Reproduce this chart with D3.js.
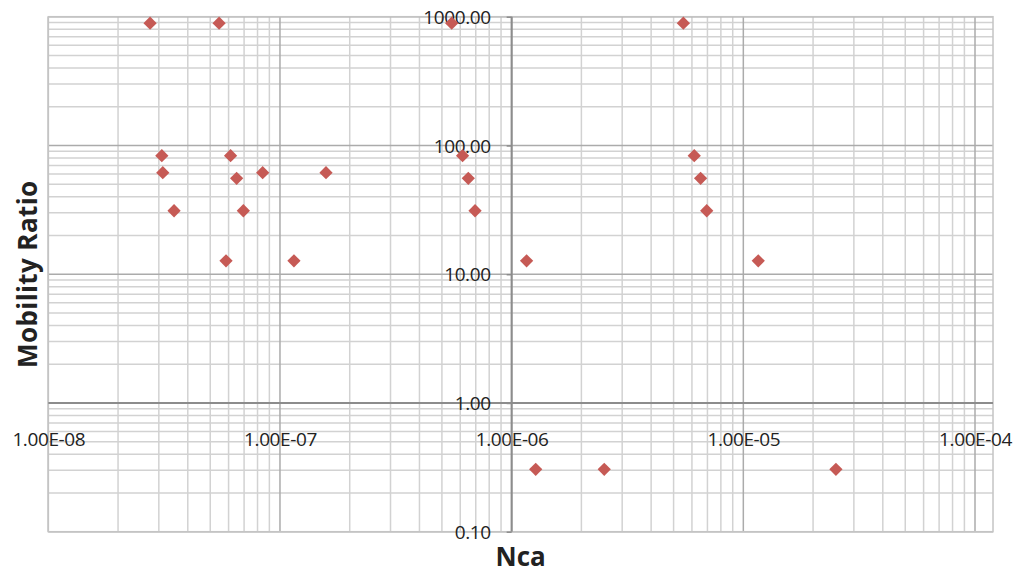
<!DOCTYPE html>
<html>
<head>
<meta charset="utf-8">
<script src="https://cdn.jsdelivr.net/npm/d3@7"></script>
<style>
  body { margin: 0; background: #fff; }
  text { font-family: "Open Sans", "Liberation Sans", sans-serif; fill: #222; }
</style>
</head>
<body>
<div id="chart"></div>
<script>
// capillary number (Nca) vs mobility ratio
const nca = [
  2.75e-8, 5.46e-8, 5.51e-7, 5.51e-6,
  3.09e-8, 6.12e-8, 6.14e-7, 6.14e-6,
  3.12e-8, 8.42e-8, 1.58e-7,
  6.50e-8, 6.50e-7, 6.54e-6,
  3.49e-8, 6.95e-8, 6.95e-7, 6.95e-6,
  5.85e-8, 1.149e-7, 1.16e-6, 1.16e-5,
  1.27e-6, 2.51e-6, 2.51e-5
];
const mobility = [
  890, 890, 890, 890,
  83.2, 83.2, 83.2, 83.2,
  61.4, 61.4, 61.4,
  55.6, 55.6, 55.6,
  31.1, 31.1, 31.1, 31.1,
  12.7, 12.7, 12.7, 12.7,
  0.305, 0.305, 0.305
];
const xTicks = [1e-8, 1e-7, 1e-6, 1e-5, 1e-4];
const yTicks = [0.1, 1, 10, 100, 1000];

const width = 1018, height = 575;
const plotL = 48.3, plotR = 993, plotT = 16.7, plotB = 531.7;

const svg = d3.select("#chart").append("svg")
  .attr("width", width)
  .attr("height", height);

const x = d3.scaleLog().domain([1e-8, 1e-4]).range([plotL, 975]);
const y = d3.scaleLog().domain([0.1, 1000]).range([plotB, plotT]);

// minor grid values: 2..9 inside every decade
const minorX = [];
for (let e = -8; e < -4; e++) for (let k = 2; k <= 9; k++) minorX.push(k * Math.pow(10, e));
const minorY = [];
for (let e = -1; e < 3; e++) for (let k = 2; k <= 9; k++) minorY.push(k * Math.pow(10, e));

const grid = svg.append("g");

grid.selectAll(".vminor").data(minorX).enter().append("line")
  .attr("x1", d => x(d)).attr("x2", d => x(d))
  .attr("y1", plotT).attr("y2", plotB)
  .attr("stroke", "#d2d2d2").attr("stroke-width", 1.5);

grid.selectAll(".hminor").data(minorY).enter().append("line")
  .attr("x1", plotL).attr("x2", plotR)
  .attr("y1", d => y(d)).attr("y2", d => y(d))
  .attr("stroke", "#d2d2d2").attr("stroke-width", 1.5);

grid.selectAll(".vmajor").data(xTicks).enter().append("line")
  .attr("x1", d => x(d)).attr("x2", d => x(d))
  .attr("y1", plotT).attr("y2", plotB)
  .attr("stroke", "#ababab").attr("stroke-width", 1.5);

grid.selectAll(".hmajor").data(yTicks).enter().append("line")
  .attr("x1", plotL).attr("x2", plotR)
  .attr("y1", d => y(d)).attr("y2", d => y(d))
  .attr("stroke", "#ababab").attr("stroke-width", 1.5);

// plot area border
svg.append("rect")
  .attr("x", plotL).attr("y", plotT)
  .attr("width", plotR - plotL).attr("height", plotB - plotT)
  .attr("fill", "none").attr("stroke", "#c4c4c4").attr("stroke-width", 1.5);

// axes cross at x = 1e-6, y = 1
const xAxis = d3.axisBottom(x).tickValues(xTicks).tickSize(0)
  .tickFormat(d => d.toExponential(2).toUpperCase().replace(/E([+-])(\d)$/, "E$10$2"));
const yAxis = d3.axisLeft(y).tickValues(yTicks).tickSize(5)
  .tickFormat(d3.format(".2f"));

const gx = svg.append("g")
  .attr("transform", `translate(0,${y(1)})`)
  .call(xAxis);
gx.select(".domain").attr("d", `M${plotL},0H${plotR}`);

const gy = svg.append("g")
  .attr("transform", `translate(${x(1e-6)},0)`)
  .call(yAxis);
gy.select(".domain").attr("d", `M0,${plotT}V${plotB}`);

svg.selectAll(".domain").attr("stroke", "#8c8c8c").attr("stroke-width", 2);
svg.selectAll(".tick line").attr("stroke", "#8c8c8c").attr("stroke-width", 1.5);

gx.selectAll(".tick text")
  .attr("y", 36).attr("dy", "0.35em")
  .style("font-size", "19px").style("letter-spacing", "-0.4px");
gy.selectAll(".tick text")
  .attr("x", -21).attr("dy", "0.35em")
  .style("font-size", "19px").style("letter-spacing", "-0.4px");
svg.selectAll(".tick text").attr("fill", "#1a1a1a");
svg.selectAll("g").attr("font-family", null).attr("font-size", null);

// points
const pts = nca.map((v, i) => ({ nca: v, m: mobility[i] }));
svg.append("g").selectAll("path").data(pts).enter().append("path")
  .attr("d", d3.symbol().type(d3.symbolSquare).size(88))
  .attr("transform", d => `translate(${x(d.nca)},${y(d.m)}) rotate(45)`)
  .attr("fill", "#c65a55");

// titles
svg.append("text")
  .attr("x", (plotL + plotR) / 2).attr("y", 557).attr("dy", "0.35em")
  .attr("text-anchor", "middle")
  .style("font-size", "26px").style("font-weight", "bold")
  .text("Nca");

svg.append("text")
  .attr("transform", `translate(28,${(plotT + plotB) / 2}) rotate(-90)`)
  .attr("dy", "0.35em")
  .attr("text-anchor", "middle")
  .style("font-size", "26px").style("font-weight", "bold")
  .style("letter-spacing", "0.4px")
  .text("Mobility Ratio");
</script>
</body>
</html>
